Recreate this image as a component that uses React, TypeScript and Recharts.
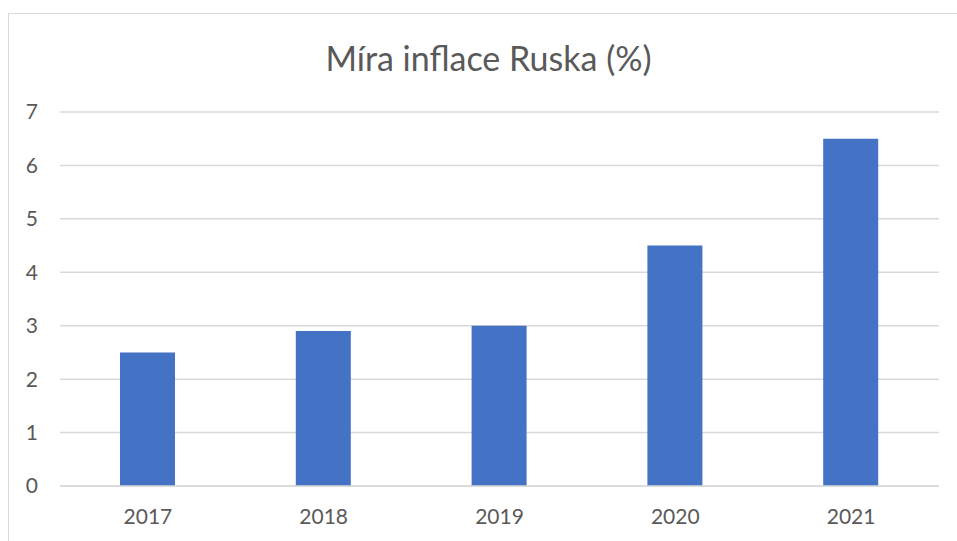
import { BarChart, Bar, XAxis, YAxis, CartesianGrid } from 'recharts';

const years = ['2017', '2018', '2019', '2020', '2021'];
const inflation = [2.5, 2.9, 3.0, 4.5, 6.5];
const yTicks = [0, 1, 2, 3, 4, 5, 6, 7];

const data = years.map((year, i) => ({ year, value: inflation[i] }));

const FONT = 'Lato, "Liberation Sans", sans-serif';
const GREY = '#595959';

export default function App() {
  return (
    <div style={{ position: 'absolute', left: 0, top: 0, width: 957, height: 541, overflow: 'hidden', background: '#fff', fontFamily: FONT }}>
      <div style={{ position: 'absolute', left: 8, top: 13, width: 1000, height: 600, border: '1.5px solid #d9d9d9' }} />
      <div style={{ position: 'absolute', left: 0, width: 977, top: 37, textAlign: 'center', fontSize: 34, color: GREY }}>
        Míra inflace Ruska (%)
      </div>
      <div style={{ position: 'absolute', left: 0, top: 0 }}>
        <BarChart width={957} height={541} data={data} margin={{ top: 112, right: 18, bottom: 0, left: 0 }}>
          <CartesianGrid vertical={false} stroke="#d9d9d9" strokeWidth={1.5} />
          <XAxis
            dataKey="year"
            height={55}
            axisLine={{ stroke: '#d9d9d9', strokeWidth: 1.5 }}
            tickLine={false}
            tickSize={0}
            tickMargin={23}
            tick={{ fill: GREY, fontSize: 21, fontFamily: FONT }}
          />
          <YAxis
            width={60}
            domain={[0, 7]}
            ticks={yTicks}
            axisLine={false}
            tickLine={false}
            tickSize={0}
            tickMargin={22}
            tick={{ fill: GREY, fontSize: 21, fontFamily: FONT }}
          />
          <Bar dataKey="value" fill="#4472C4" barSize={55} isAnimationActive={false} />
        </BarChart>
      </div>
    </div>
  );
}
